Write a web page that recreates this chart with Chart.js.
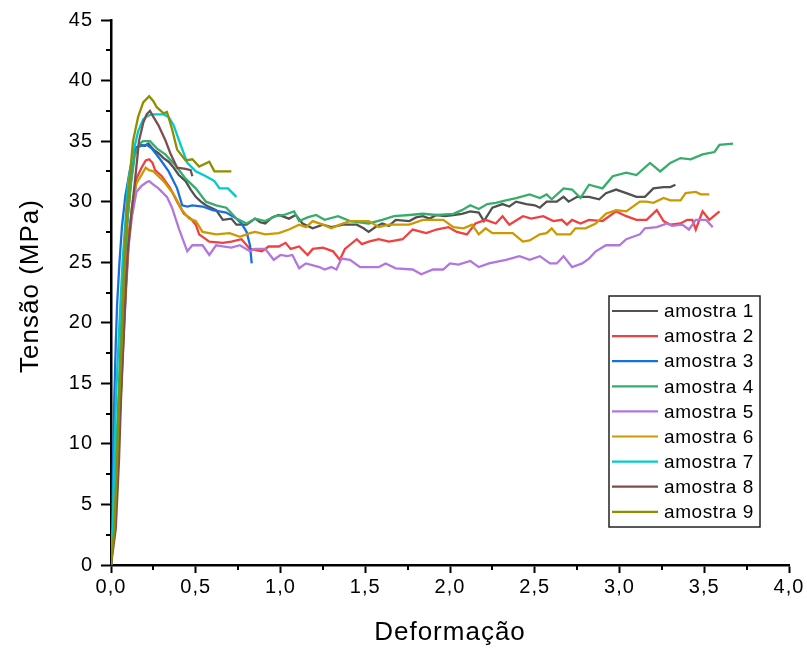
<!DOCTYPE html>
<html>
<head>
<meta charset="utf-8">
<script src="https://cdn.jsdelivr.net/npm/chart.js@4"></script>
<style>
  body { margin: 0; background: #fff; }
  canvas { display: block; }
</style>
</head>
<body>
<canvas id="grafico" width="807" height="653"></canvas>
<script>
// curvas tensao x deformacao: [deformacao, tensao MPa]
const amostra1 = [[0,0],[0.012,3],[0.03,8],[0.05,15],[0.065,21],[0.08,25],[0.1,29],[0.12,32],[0.14,34.3],[0.17,34.7],[0.2,34.6],[0.22,34.8],[0.25,34.3],[0.28,34.0],[0.31,33.6],[0.34,33.3],[0.37,32.8],[0.40,32.2],[0.44,31.7],[0.47,31.0],[0.50,30.4],[0.53,30.0],[0.56,29.7],[0.59,29.5],[0.62,29.3],[0.66,28.5],[0.71,28.6],[0.74,28.1],[0.80,28.1],[0.85,28.6],[0.88,28.3],[0.91,28.2],[0.95,28.7],[0.99,28.9],[1.05,28.6],[1.09,28.9],[1.13,28.2],[1.19,27.8],[1.25,28.1],[1.30,27.9],[1.37,28.1],[1.45,28.1],[1.49,27.8],[1.52,27.5],[1.56,27.9],[1.60,28.2],[1.64,28.0],[1.68,28.5],[1.76,28.4],[1.80,28.7],[1.84,28.8],[1.88,28.6],[1.92,28.9],[1.97,28.8],[2.02,28.9],[2.07,29.0],[2.12,29.2],[2.17,29.1],[2.20,28.4],[2.25,29.5],[2.31,29.8],[2.35,29.6],[2.39,30.0],[2.45,29.8],[2.50,29.7],[2.53,29.5],[2.57,30.0],[2.63,30.0],[2.67,30.4],[2.70,30.0],[2.75,30.4],[2.82,30.4],[2.88,30.2],[2.92,30.7],[2.98,31.0],[3.04,30.7],[3.10,30.4],[3.15,30.4],[3.20,31.1],[3.26,31.2],[3.30,31.2],[3.33,31.4]];
const amostra2 = [[0,0],[0.015,3],[0.035,8],[0.06,15],[0.075,20],[0.09,24],[0.105,27.5],[0.13,29.5],[0.15,31.9],[0.18,32.8],[0.205,33.4],[0.225,33.5],[0.245,33.2],[0.26,32.6],[0.30,32.1],[0.35,31.1],[0.39,30.0],[0.43,29.0],[0.47,28.6],[0.50,28.1],[0.52,27.3],[0.58,26.7],[0.66,26.6],[0.71,26.7],[0.77,26.9],[0.82,26.1],[0.89,25.9],[0.93,26.3],[0.99,26.3],[1.03,26.6],[1.06,26.1],[1.11,26.3],[1.16,25.6],[1.19,26.1],[1.25,26.2],[1.31,25.9],[1.35,25.2],[1.38,26.1],[1.45,26.9],[1.48,26.5],[1.52,26.7],[1.58,26.9],[1.64,26.7],[1.72,26.9],[1.78,27.7],[1.86,27.4],[1.92,27.7],[1.99,27.9],[2.04,27.5],[2.10,27.3],[2.15,28.2],[2.21,28.5],[2.27,28.2],[2.31,28.8],[2.35,28.1],[2.43,28.8],[2.48,28.6],[2.55,28.8],[2.61,28.4],[2.66,28.5],[2.69,28.1],[2.72,28.5],[2.77,28.2],[2.82,28.5],[2.90,28.4],[2.98,29.2],[3.04,28.8],[3.10,28.5],[3.16,28.5],[3.22,29.3],[3.26,28.4],[3.30,28.1],[3.36,28.2],[3.40,28.5],[3.43,28.5],[3.45,27.7],[3.49,29.2],[3.53,28.5],[3.59,29.2]];
const amostra3 = [[0,0],[0.008,3],[0.012,8.6],[0.02,14],[0.028,18.2],[0.036,21.5],[0.05,25],[0.065,28],[0.085,30.5],[0.11,32.5],[0.13,33.8],[0.15,34.5],[0.18,34.6],[0.21,34.7],[0.24,34.4],[0.29,33.5],[0.34,32.5],[0.39,31.1],[0.42,29.7],[0.45,29.6],[0.48,29.7],[0.54,29.6],[0.60,29.3],[0.68,29.1],[0.74,28.6],[0.77,28.2],[0.80,27.5],[0.82,26.4],[0.83,24.9]];
const amostra4 = [[0,0],[0.012,3],[0.028,8],[0.045,14],[0.062,20],[0.078,24.5],[0.097,28.5],[0.118,31.5],[0.14,33.8],[0.17,34.8],[0.19,35.0],[0.23,35.0],[0.27,34.4],[0.32,33.9],[0.38,33.0],[0.44,31.9],[0.50,31.1],[0.56,30.0],[0.62,29.7],[0.68,29.5],[0.74,28.6],[0.80,28.2],[0.85,28.6],[0.91,28.4],[0.97,28.8],[1.02,28.9],[1.08,29.2],[1.11,28.4],[1.16,28.7],[1.21,28.9],[1.26,28.5],[1.34,28.8],[1.41,28.4],[1.52,28.2],[1.60,28.5],[1.67,28.8],[1.76,28.9],[1.84,29.0],[1.92,28.9],[2.02,29.0],[2.07,29.3],[2.12,29.7],[2.17,29.4],[2.22,29.8],[2.27,29.9],[2.33,30.1],[2.39,30.3],[2.47,30.6],[2.53,30.3],[2.57,30.6],[2.60,30.2],[2.67,31.1],[2.72,31.0],[2.77,30.3],[2.82,31.4],[2.90,31.1],[2.96,32.1],[3.04,32.4],[3.10,32.2],[3.18,33.2],[3.24,32.5],[3.30,33.2],[3.36,33.6],[3.42,33.5],[3.49,33.9],[3.56,34.1],[3.59,34.7],[3.67,34.8]];
const amostra5 = [[0,0],[0.015,3],[0.035,8],[0.058,14],[0.075,19],[0.09,23],[0.105,26.5],[0.125,28.9],[0.15,30.8],[0.18,31.3],[0.21,31.6],[0.225,31.7],[0.25,31.4],[0.28,31.1],[0.33,30.4],[0.36,29.5],[0.40,27.8],[0.45,25.9],[0.48,26.4],[0.54,26.4],[0.58,25.6],[0.62,26.4],[0.66,26.3],[0.71,26.2],[0.76,26.4],[0.82,25.9],[0.85,26.1],[0.91,26.1],[0.96,25.2],[1.00,25.6],[1.04,25.5],[1.07,25.6],[1.11,24.5],[1.15,24.9],[1.23,24.6],[1.26,24.4],[1.30,24.6],[1.33,24.4],[1.36,25.3],[1.41,25.2],[1.47,24.6],[1.58,24.6],[1.62,24.9],[1.68,24.5],[1.78,24.4],[1.83,24.0],[1.90,24.4],[1.96,24.4],[2.00,24.9],[2.05,24.8],[2.12,25.1],[2.17,24.6],[2.23,24.9],[2.33,25.2],[2.41,25.5],[2.47,25.2],[2.53,25.5],[2.59,24.9],[2.63,24.9],[2.67,25.5],[2.72,24.6],[2.78,24.9],[2.82,25.3],[2.86,25.9],[2.92,26.4],[3.00,26.4],[3.04,26.9],[3.08,27.1],[3.12,27.3],[3.15,27.8],[3.22,27.9],[3.28,28.2],[3.31,28.0],[3.37,28.1],[3.41,27.7],[3.45,28.5],[3.51,28.5],[3.55,27.9]];
const amostra6 = [[0,0],[0.018,3],[0.037,8],[0.058,14],[0.073,19],[0.088,23],[0.105,27],[0.125,29.8],[0.15,31.5],[0.18,32.2],[0.205,32.8],[0.225,32.6],[0.25,32.5],[0.31,31.7],[0.37,30.6],[0.42,29.3],[0.46,28.6],[0.50,28.4],[0.54,27.5],[0.62,27.3],[0.70,27.4],[0.76,27.1],[0.82,27.4],[0.85,27.5],[0.91,27.3],[0.99,27.4],[1.05,27.7],[1.11,28.1],[1.15,27.9],[1.19,28.4],[1.25,28.1],[1.30,27.8],[1.35,28.1],[1.41,28.4],[1.52,28.4],[1.58,27.9],[1.64,28.1],[1.76,28.1],[1.84,28.5],[1.96,28.5],[2.02,27.9],[2.08,27.8],[2.13,28.1],[2.17,27.3],[2.21,27.8],[2.25,27.4],[2.37,27.4],[2.43,26.7],[2.47,26.8],[2.53,27.3],[2.57,27.4],[2.60,27.8],[2.63,27.3],[2.71,27.3],[2.74,27.8],[2.80,27.8],[2.86,28.2],[2.92,29.0],[2.98,29.3],[3.04,29.2],[3.12,30.0],[3.16,30.0],[3.20,29.9],[3.26,30.3],[3.30,30.1],[3.36,30.1],[3.39,30.7],[3.45,30.8],[3.48,30.6],[3.53,30.6]];
const amostra7 = [[0,0],[0.01,3],[0.018,8],[0.03,14],[0.05,20],[0.068,25],[0.088,29],[0.10,31.5],[0.13,34],[0.16,35.8],[0.19,36.8],[0.22,37.1],[0.24,37.2],[0.31,37.2],[0.34,37.0],[0.37,36.3],[0.40,35.1],[0.45,33.2],[0.50,32.5],[0.56,32.1],[0.61,31.7],[0.64,31.1],[0.69,31.1],[0.74,30.4]];
const amostra8 = [[0,0],[0.028,3],[0.047,8.6],[0.06,14.1],[0.077,19.5],[0.088,23],[0.1,26],[0.12,29],[0.14,31.5],[0.165,35],[0.19,36.5],[0.21,37.2],[0.23,37.5],[0.25,37.0],[0.28,36.3],[0.32,35.1],[0.35,34.0],[0.39,32.8],[0.44,32.7],[0.47,32.6],[0.48,32.1]];
const amostra9 = [[0,0],[0.02,3],[0.035,8],[0.05,14],[0.065,19],[0.078,25],[0.092,29],[0.11,32],[0.13,35],[0.16,37],[0.19,38.2],[0.225,38.7],[0.25,38.3],[0.27,37.8],[0.31,37.3],[0.33,37.4],[0.36,36.0],[0.39,34.3],[0.44,33.4],[0.48,33.5],[0.52,32.9],[0.58,33.3],[0.61,32.5],[0.71,32.5]];

const series = [amostra1, amostra2, amostra3, amostra4, amostra5, amostra6, amostra7, amostra8, amostra9];
const nomes = ['amostra 1', 'amostra 2', 'amostra 3', 'amostra 4', 'amostra 5', 'amostra 6', 'amostra 7', 'amostra 8', 'amostra 9'];
const cores = ['#515151', '#F14040', '#1A6FDF', '#37AD6B', '#B177DE', '#CC9900', '#00CBCC', '#7D4E4E', '#8E8E00'];

const xTickLabels = ['0,0', '0,5', '1,0', '1,5', '2,0', '2,5', '3,0', '3,5', '4,0'];
const yTickLabels = ['0', '5', '10', '15', '20', '25', '30', '35', '40', '45'];

const fonte = '"Liberation Sans", Arial, sans-serif';

// ticks menores + titulos dos eixos + legenda em caixa
const extras = {
    id: 'extras',
    beforeDraw(chart) {
        chart.ctx.letterSpacing = '1px';
    },
    afterDraw(chart) {
        const ctx = chart.ctx;
        const xs = chart.scales.x, ys = chart.scales.y;
        const area = chart.chartArea;
        ctx.save();
        ctx.strokeStyle = '#000';
        ctx.lineWidth = 2;
        ctx.beginPath();
        for (let v = 0.25; v < 4; v += 0.5) {
            const px = Math.round(xs.getPixelForValue(v));
            ctx.moveTo(px, area.bottom);
            ctx.lineTo(px, area.bottom + 5);
        }
        for (let v = 2.5; v < 45; v += 5) {
            const py = Math.round(ys.getPixelForValue(v));
            ctx.moveTo(area.left, py);
            ctx.lineTo(area.left - 5, py);
        }
        ctx.stroke();

        // titulos
        ctx.fillStyle = '#000';
        ctx.font = '26px ' + fonte;
        ctx.letterSpacing = '1px';
        ctx.textAlign = 'center';
        ctx.textBaseline = 'middle';
        ctx.fillText('Deformação', (area.left + area.right) / 2, 633);
        ctx.save();
        ctx.translate(31, 286);
        ctx.rotate(-Math.PI / 2);
        ctx.fillText('Tensão (MPa)', 0, 0);
        ctx.restore();

        // legenda
        ctx.letterSpacing = '0.6px';
        ctx.lineWidth = 1.5;
        ctx.strokeStyle = '#222';
        ctx.strokeRect(609, 296, 151, 231);
        ctx.font = '19px ' + fonte;
        ctx.textAlign = 'left';
        nomes.forEach((nome, i) => {
            const y = 311 + i * 25.1;
            ctx.strokeStyle = cores[i];
            ctx.lineWidth = 2.2;
            ctx.beginPath();
            ctx.moveTo(612, y);
            ctx.lineTo(658, y);
            ctx.stroke();
            ctx.fillStyle = '#000';
            ctx.fillText(nome, 664, y + 1);
        });
        ctx.restore();
    }
};

const ctx = document.getElementById('grafico').getContext('2d');
new Chart(ctx, {
    type: 'line',
    data: {
        datasets: series.map((s, i) => ({
            label: nomes[i],
            data: s.map(p => ({ x: p[0], y: p[1] })),
            borderColor: cores[i],
            borderWidth: 2.3,
            pointRadius: 0,
            tension: 0,
            fill: false,
            order: 9 - i
        }))
    },
    options: {
        responsive: false,
        animation: false,
        devicePixelRatio: 1,
        layout: { padding: { top: 18, right: 18, left: 0, bottom: 0 } },
        plugins: {
            legend: { display: false },
            tooltip: { enabled: false }
        },
        scales: {
            x: {
                type: 'linear',
                min: 0,
                max: 4,
                afterFit: (scale) => { scale.height = 88; },
                border: { display: true, color: '#000', width: 2.5 },
                grid: { drawOnChartArea: false, drawTicks: true, tickLength: 8, tickWidth: 2, tickColor: '#000' },
                ticks: {
                    stepSize: 0.5,
                    padding: 2,
                    color: '#000',
                    maxRotation: 0,
                    font: { family: fonte, size: 20 },
                    callback: (v, i) => xTickLabels[i]
                }
            },
            y: {
                min: 0,
                max: 45,
                afterFit: (scale) => { scale.width = 111; },
                border: { display: true, color: '#000', width: 2.5 },
                grid: { drawOnChartArea: false, drawTicks: true, tickLength: 10, tickWidth: 2, tickColor: '#000' },
                ticks: {
                    stepSize: 5,
                    padding: 8,
                    color: '#000',
                    font: { family: fonte, size: 20 },
                    callback: (v, i) => yTickLabels[i]
                }
            }
        }
    },
    plugins: [extras]
});
</script>
</body>
</html>
